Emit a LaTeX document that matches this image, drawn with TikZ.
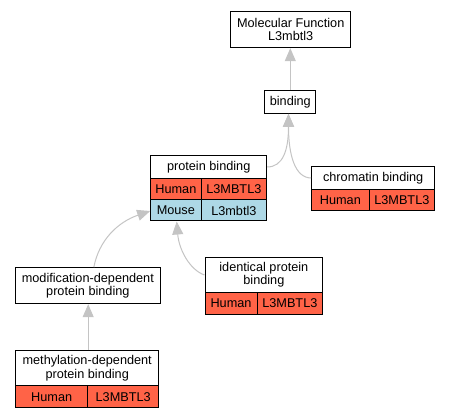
\documentclass[tikz,border=0pt]{standalone}
\usepackage{fontspec}
\setmainfont{Liberation Sans}
\usetikzlibrary{arrows.meta}
\definecolor{tomatored}{HTML}{FF6347}
\definecolor{lblue}{HTML}{ADD8E6}
\definecolor{edgegray}{HTML}{C4C4C4}
\begin{document}
\begin{tikzpicture}[x=1pt,y=-1pt,
  box/.style={draw=black, line width=1pt, fill=white, inner sep=0pt, align=center,
    font=\fontsize{12.7}{13.4}\selectfont},
  cellr/.style={box, fill=tomatored},
  cellb/.style={box, fill=lblue},
  edge/.style={draw=edgegray, line width=1pt, -{Triangle[length=13pt,width=11pt]}}]
\useasboundingbox (0,0) rectangle (451,419);
% Molecular Function
\node[box, minimum width=120pt, minimum height=36pt] (mf) at (290.7,29.7) {Molecular Function\\L3mbtl3};
% binding
\node[box, minimum width=50.7pt, minimum height=22.6pt] (bind) at (290.3,102) {binding};
% protein binding
\node[box, minimum width=116pt, minimum height=22.6pt] (pb) at (208.7,167) {protein binding};
\node[cellr, minimum width=50.3pt, minimum height=21.7pt] (pbh1) at (175.85,189.15) {Human};
\node[cellr, minimum width=65.7pt, minimum height=21.7pt] (pbh2) at (233.85,189.15) {L3MBTL3};
\node[cellb, minimum width=50.3pt, minimum height=21pt] (pbm1) at (175.85,210.5) {Mouse};
\node[cellb, minimum width=65.7pt, minimum height=21pt] (pbm2) at (233.85,210.5) {L3mbtl3};
% chromatin binding
\node[box, minimum width=123pt, minimum height=22.6pt] (chb) at (373.2,178) {chromatin binding};
\node[cellr, minimum width=57.3pt, minimum height=21.4pt] (chb1) at (340.35,200) {Human};
\node[cellr, minimum width=65.7pt, minimum height=21.4pt] (chb2) at (401.85,200) {L3MBTL3};
% modification-dependent
\node[box, minimum width=144.3pt, minimum height=36pt] (mod) at (87.85,285.7) {modification-dependent\\protein binding};
% identical protein binding
\node[box, minimum width=117.7pt, minimum height=35.4pt] (ipb) at (263.85,275) {identical protein\\binding};
\node[cellr, minimum width=52pt, minimum height=21.6pt] (ipb1) at (231,303.5) {Human};
\node[cellr, minimum width=65.7pt, minimum height=21.6pt] (ipb2) at (289.85,303.5) {L3MBTL3};
% methylation-dependent
\node[box, minimum width=143pt, minimum height=35.3pt] (meth) at (87.2,368.35) {methylation-dependent\\protein binding};
\node[cellr, minimum width=72pt, minimum height=21.7pt] (meth1) at (51.7,396.85) {Human};
\node[cellr, minimum width=71pt, minimum height=21.7pt] (meth2) at (123.2,396.85) {L3MBTL3};
% edges
\draw[edge] (bind.north) -- (bind.north |- mf.south);
\draw[edge] (pb.east) .. controls (283,167) and (288.5,150) .. ([xshift=-1.8pt]bind.south);
\draw[edge] (chb.west) .. controls (295,178) and (288.5,155) .. ([xshift=-1.8pt]bind.south);
\draw[edge] ([xshift=6pt]mod.north) .. controls (99,240) and (118,222) .. ([yshift=-0.5pt]pbm1.west);
\draw[edge] (ipb.west) .. controls (190,270) and (179,250) .. ([xshift=0.85pt]pbm1.south);
\draw[edge] (meth.north -| meth1.east) -- (mod.south -| meth1.east);
\end{tikzpicture}
\end{document}
